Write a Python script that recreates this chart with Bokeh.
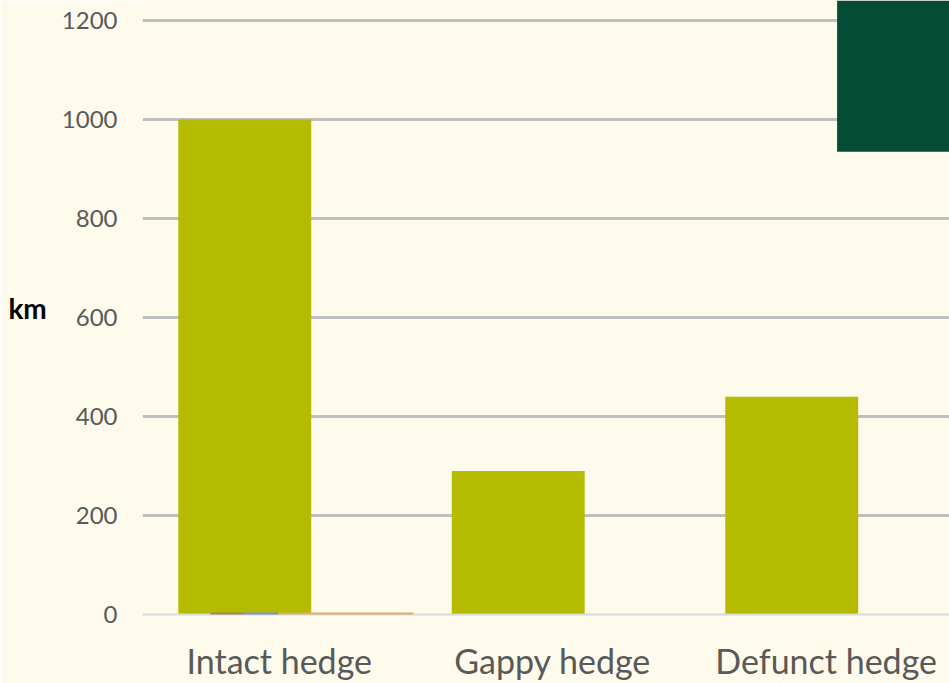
from bokeh.plotting import figure
from bokeh.models import Range1d, FixedTicker, BoxAnnotation
from bokeh.embed import file_html
from bokeh.resources import INLINE

categories = ["Intact hedge", "Gappy hedge", "Defunct hedge"]
hedge_km = [1000, 290, 440]
series_brown = [4, 0, 0]
series_blue = [4, 0, 0]
series_tan = [4, 0, 0]
y_ticks = [0, 200, 400, 600, 800, 1000, 1200]

BG = "#FEFAEC"
OLIVE = "#B5BB00"
FONT = "Lato"

xc = [i + 0.5 for i in range(len(categories))]

p = figure(width=949, height=683, output_backend="svg", toolbar_location=None,
           x_range=Range1d(0, 2.951), y_range=Range1d(0, 1240.4),
           min_border_left=142, min_border_right=0, min_border_top=0, min_border_bottom=69)
p.background_fill_color = BG
p.border_fill_color = BG
p.outline_line_color = None

p.vbar(x=[v - 0.126 for v in xc], top=hedge_km, width=0.486, fill_color=OLIVE, line_color=None)
for dx, w, vals, col in [(-0.192, 0.12, series_brown, "#A8805E"),
                         (-0.068, 0.128, series_blue, "#7C8FD8"),
                         (0.243, 0.494, series_tan, "#D6B466")]:
    r = p.vbar(x=[v + dx for v in xc], top=vals, width=w, fill_color=col, line_color=None)
    r.level = "overlay"

# cropped dark legend panel in the corner
legend_left = 2.54
legend_bottom = 935
p.add_layout(BoxAnnotation(left=legend_left, bottom=legend_bottom, fill_color="#044C33",
                           fill_alpha=1.0, line_color=None))

p.xgrid.visible = False
p.ygrid.ticker = FixedTicker(ticks=y_ticks[1:])
p.ygrid.grid_line_color = "#BFBFBF"
p.ygrid.grid_line_width = 3

p.yaxis.ticker = FixedTicker(ticks=y_ticks)
p.yaxis.axis_line_color = None
p.yaxis.major_tick_line_color = None
p.yaxis.minor_tick_line_color = None
p.yaxis.major_label_text_font = FONT
p.yaxis.major_label_text_font_size = "24px"
p.yaxis.major_label_text_color = "#595959"
p.yaxis.major_label_standoff = 19
p.yaxis.axis_label = "km"
p.yaxis.axis_label_orientation = "horizontal"
p.yaxis.axis_label_text_font = FONT
p.yaxis.axis_label_text_font_style = "bold"
p.yaxis.axis_label_text_font_size = "28px"
p.yaxis.axis_label_text_color = "black"
p.yaxis.axis_label_text_baseline = "top"
p.yaxis.axis_label_standoff = 12

p.xaxis.ticker = FixedTicker(ticks=xc)
p.xaxis.major_label_overrides = {v: c for v, c in zip(xc, categories)}
p.xaxis.axis_line_color = "#D9D9D9"
p.xaxis.axis_line_width = 2
p.xaxis.major_tick_line_color = None
p.xaxis.minor_tick_line_color = None
p.xaxis.major_label_text_font = FONT
p.xaxis.major_label_text_font_size = "34px"
p.xaxis.major_label_text_color = "#595959"
p.xaxis.major_label_standoff = 19

open("out.html", "w").write(file_html(p, INLINE))
